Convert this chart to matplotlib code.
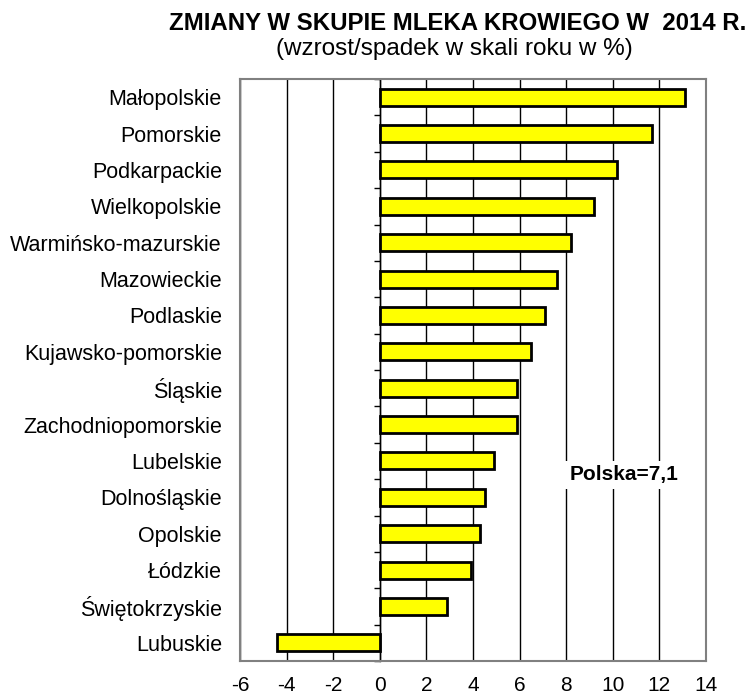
import matplotlib
matplotlib.use("Agg")
import matplotlib.pyplot as plt
import numpy as np

regions = ["Małopolskie", "Pomorskie", "Podkarpackie", "Wielkopolskie",
           "Warmińsko-mazurskie", "Mazowieckie", "Podlaskie", "Kujawsko-pomorskie",
           "Śląskie", "Zachodniopomorskie", "Lubelskie", "Dolnośląskie",
           "Opolskie", "Łódzkie", "Świętokrzyskie", "Lubuskie"]
values = [13.1, 11.7, 10.2, 9.2, 8.2, 7.6, 7.1, 6.5, 5.9, 5.9, 4.9, 4.5, 4.3, 3.9, 2.9, -4.4]
xticks = [-6, -4, -2, 0, 2, 4, 6, 8, 10, 12, 14]
title = "ZMIANY W SKUPIE MLEKA KROWIEGO W  2014 R."
subtitle = "(wzrost/spadek w skali roku w %)"
note = "Polska=7,1"

plt.rcParams['font.family'] = ['Liberation Sans', 'DejaVu Sans']

fig = plt.figure(figsize=(7.49, 6.96), dpi=100)
ax = fig.add_axes([240/749, 1-661/696, 466/749, 582/696])

y = np.arange(len(regions))
ax.barh(y, values, height=0.47, color='#FFFF00', edgecolor='black', linewidth=2.0, zorder=3)

ax.set_xlim(-6, 14)
ax.set_ylim(len(regions)-0.5, -0.5)
ax.set_xticks(xticks)
ax.set_xticklabels([str(t) for t in xticks])
ax.set_yticks(y)
ax.set_yticklabels(regions)
ax.tick_params(axis='both', length=0)
ax.tick_params(axis='x', pad=11, labelsize=15)
ax.tick_params(axis='y', pad=13, labelsize=15.5)
ax.xaxis.grid(True, color='black', linewidth=1.0, zorder=1)
ax.set_axisbelow(True)
for s in ax.spines.values():
    s.set_color('#808080')
    s.set_linewidth(1.5)

# vertical axis at x=0 with boundary ticks
sec = ax.secondary_yaxis(6/20)
sec.set_yticks(np.arange(len(regions)+1) - 0.5)
sec.set_yticklabels([])
sec.tick_params(axis='y', direction='out', length=4.5, width=1.0, color='black')
sec.spines['left'].set_color('black')
sec.spines['left'].set_linewidth(1.0)

ax.text(0.824, 0.3196, note, transform=ax.transAxes, ha='center', va='center',
        fontsize=15, fontweight='bold', zorder=5,
        bbox=dict(facecolor='white', edgecolor='none', pad=3))

fig.text(458/749, 1-23/696, title, ha='center', va='center', fontsize=17.3, fontweight='bold')
fig.text(454/749, 1-49/696, subtitle, ha='center', va='center', fontsize=17.5)

fig.savefig("out.png", dpi=100)
